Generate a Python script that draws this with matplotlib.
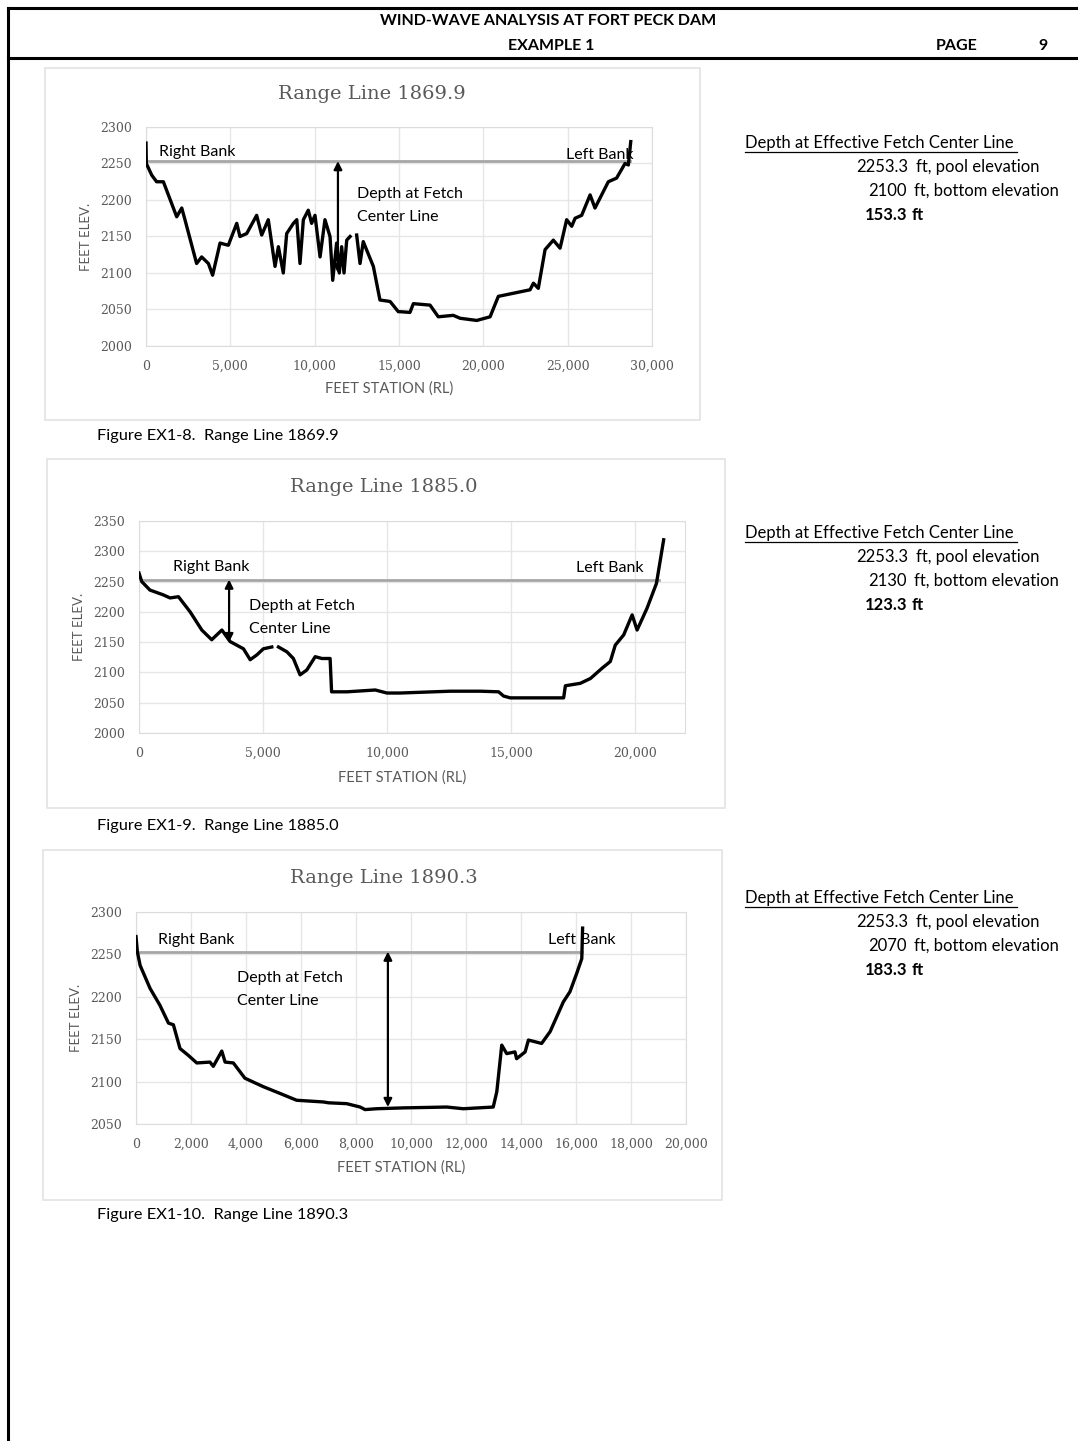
import numpy as np
import matplotlib
matplotlib.use("Agg")
import matplotlib.pyplot as plt
from matplotlib.patches import Rectangle
from matplotlib.lines import Line2D
from matplotlib.ticker import FuncFormatter, MultipleLocator

nan = np.nan
POOL = 2253.3

# Range Line 1869.9 (station ft, elevation ft)
st1 = [0, 20, 340, 630, 1030, 1820, 2120, 2310, 3000, 3300, 3700, 3950, 4390, 4880,
       5380, 5570, 5970, 6560, 6860, 7250, 7650, 7850, 8140, 8340, 8740, 8940, 9130,
       9330, 9620, 9820, 10020, 10320, 10610, 10910, 11070, 11300, 11460, 11600, 11740,
       11900, 12100, nan, 12490, 12690, 12880, 13480, 13870, 14470, 14960, 15060, 15650,
       15850, 16840, 17330, 18220, 18620, 19610, 20400, 20890, 22770, 22970, 23260,
       23660, 24150, 24550, 24940, 25240, 25440, 25830, 26330, 26620, 27410, 27900,
       28400, 28600, 28740]
el1 = [2278, 2250, 2234, 2225, 2225, 2177, 2189, 2173, 2113, 2122, 2113, 2097, 2141, 2138,
       2168, 2150, 2154, 2179, 2152, 2173, 2109, 2136, 2100, 2154, 2168, 2173, 2113,
       2173, 2186, 2168, 2179, 2122, 2173, 2150, 2090, 2141, 2100, 2136, 2100,
       2145, 2150, nan, 2152, 2113, 2143, 2109, 2063, 2061, 2047, 2047, 2046,
       2058, 2056, 2040, 2042, 2038, 2035, 2040, 2068, 2077, 2086, 2079,
       2132, 2145, 2134, 2173, 2164, 2175, 2179, 2207, 2189, 2225, 2230,
       2250, 2248, 2280]

# Range Line 1885.0
st2 = [0, 110, 440, 980, 1250, 1590, 2060, 2530, 2930, 3340, 3670, 3940, 4210, 4480,
       4750, 5010, 5350, nan, 5620, 5960, 6220, 6490, 6760, 7100, 7370, 7700, 7760,
       8380, 9520, 9990, 10520, 12540, 13750, 14490, 14690, 14960, 17110, 17180, 17780,
       18190, 18660, 18990, 19190, 19530, 19870, 20070, 20470, 20850, 21140]
el2 = [2264, 2250, 2236, 2228, 2223, 2225, 2200, 2170, 2154, 2170, 2151, 2145, 2139, 2121,
       2129, 2139, 2142, nan, 2142, 2134, 2123, 2096, 2104, 2126, 2123, 2123, 2068,
       2068, 2071, 2066, 2066, 2069, 2069, 2068, 2061, 2058, 2058, 2078, 2082,
       2090, 2107, 2118, 2145, 2162, 2195, 2170, 2206, 2247, 2319]

# Range Line 1890.3
st3 = [0, 50, 150, 510, 870, 1180, 1360, 1600, 1900, 2210, 2690, 2810, 3120, 3240, 3540,
       3960, 4630, 5240, 5840, 6810, 7000, 7660, 8150, 8330, 8750, 9720, 11300, 11900,
       12990, 13120, 13300, 13480, 13780, 13840, 14150, 14270, 14750, 15060, 15540,
       15780, 16030, 16210, 16240]
el3 = [2271, 2253, 2237, 2210, 2190, 2169, 2167, 2139, 2131, 2122, 2123, 2118, 2136, 2123, 2122,
       2104, 2094, 2086, 2078, 2076, 2075, 2074, 2070, 2067, 2068, 2069, 2070, 2068,
       2070, 2088, 2143, 2133, 2135, 2127, 2135, 2149, 2145, 2159, 2194,
       2206, 2228, 2245, 2281]

titles = ["Range Line 1869.9", "Range Line 1885.0", "Range Line 1890.3"]
captions = ["Figure EX1-8.  Range Line 1869.9", "Figure EX1-9.  Range Line 1885.0",
            "Figure EX1-10.  Range Line 1890.3"]
bottom_elev = [2100, 2130, 2070]
depths = ["153.3", "123.3", "183.3"]
arrow_st = [11380, 3630, 9160]
arrow_bot = [2100, 2150, 2070]
pool_end = [28700, 20950, 16230]

W, H = 1078, 1441
SANS = ["Lato", "DejaVu Sans"]
SERIF = ["DejaVu Serif"]
GRAY = "#595959"

fig = plt.figure(figsize=(W / 100, H / 100), dpi=100)
fig.patch.set_facecolor("white")


def fx(px):
    return px / W


def fy(py):
    return 1 - py / H


# page frame / header
fig.add_artist(Line2D([fx(8), fx(1078)], [fy(8), fy(8)], color="black", lw=2.2))
fig.add_artist(Line2D([fx(8), fx(1078)], [fy(58), fy(58)], color="black", lw=2.2))
fig.add_artist(Line2D([fx(8), fx(8)], [fy(8), fy(1441)], color="black", lw=2.2))
fig.text(fx(548), fy(21), "WIND-WAVE ANALYSIS AT FORT PECK DAM", ha="center", va="center",
         fontsize=11.5, fontweight="bold", family=SANS)
fig.text(fx(551), fy(46), "EXAMPLE 1", ha="center", va="center", fontsize=11.5,
         fontweight="bold", family=SANS)
fig.text(fx(957), fy(46), "PAGE", ha="center", va="center", fontsize=11.5,
         fontweight="bold", family=SANS)
fig.text(fx(1043), fy(46), "9", ha="center", va="center", fontsize=11.5,
         fontweight="bold", family=SANS)

# layout per chart: panel box, axes box (pixels), axis limits
panels = [(45, 68, 700, 420), (47, 459, 725, 808), (43, 850, 722, 1200)]
axboxes = [(146, 127, 652, 346), (139, 521, 685, 733), (136, 912, 686, 1124)]
xlims = [(0, 30000), (0, 22000), (0, 20000)]
ylims = [(2000, 2300), (2000, 2350), (2050, 2300)]
xsteps = [5000, 5000, 2000]
title_pos = [(372, 94), (384, 487), (384, 878)]
caption_y = [436, 826, 1215]
info_y = [143, 533, 898]
rb_pos = [(159, 152), (173, 567), (158, 940)]
lb_pos = [(633, 155), (643, 568), (615, 940)]
depth_pos = [(357, 194), (249, 606), (237, 978)]
xlabel_y = [389, 778, 1168]

profiles = [(st1, el1), (st2, el2), (st3, el3)]

for i in range(3):
    x0, y0, x1, y1 = panels[i]
    fig.add_artist(Rectangle((fx(x0), fy(y1)), fx(x1 - x0), (y1 - y0) / H,
                             facecolor="white", edgecolor="#e3e3e3", lw=1.2, zorder=0))
    l, t, r, b = axboxes[i]
    ax = fig.add_axes([fx(l), fy(b), fx(r - l), (b - t) / H])
    st, el = profiles[i]
    ax.plot(st, el, color="black", lw=2.4, zorder=3)
    ax.plot([0, pool_end[i]], [POOL, POOL], color="#a6a6a6", lw=2, zorder=2)
    ax.annotate("", xy=(arrow_st[i], POOL), xytext=(arrow_st[i], arrow_bot[i]),
                arrowprops=dict(arrowstyle="<|-|>", color="black", lw=1.6,
                                mutation_scale=12, shrinkA=0, shrinkB=0), zorder=4)
    ax.set_xlim(*xlims[i])
    ax.set_ylim(*ylims[i])
    ax.xaxis.set_major_locator(MultipleLocator(xsteps[i]))
    ax.yaxis.set_major_locator(MultipleLocator(50))
    ax.xaxis.set_major_formatter(FuncFormatter(lambda v, p: f"{v:,.0f}"))
    ax.grid(True, color="#e6e6e6", lw=1)
    ax.set_axisbelow(True)
    for s in ax.spines.values():
        s.set_color("#dcdcdc")
    ax.tick_params(length=0, labelsize=9, labelcolor=GRAY, pad=10)
    for lab in ax.get_xticklabels() + ax.get_yticklabels():
        lab.set_family(SERIF)
    ax.set_ylabel("FEET ELEV.", fontsize=9.5, color=GRAY, family=SANS, labelpad=6)
    fig.text(fx((l + r) / 2 - 10), fy(xlabel_y[i]), "FEET STATION (RL)", ha="center",
             va="center", fontsize=10.5, color=GRAY, family=SANS)
    fig.text(fx(title_pos[i][0]), fy(title_pos[i][1]), titles[i], ha="center", va="center",
             fontsize=14, color=GRAY, family=SERIF)
    fig.text(fx(rb_pos[i][0]), fy(rb_pos[i][1]), "Right Bank", ha="left", va="center",
             fontsize=11.5, family=SANS)
    fig.text(fx(lb_pos[i][0]), fy(lb_pos[i][1]), "Left Bank", ha="right", va="center",
             fontsize=11.5, family=SANS)
    dx, dy = depth_pos[i]
    fig.text(fx(dx), fy(dy), "Depth at Fetch", ha="left", va="center",
             fontsize=11.5, family=SANS)
    fig.text(fx(dx), fy(dy + 23), "Center Line", ha="left", va="center",
             fontsize=11.5, family=SANS)
    fig.text(fx(97), fy(caption_y[i]), captions[i], ha="left", va="center",
             fontsize=11.8, family=SANS)

    # side notes
    yy = info_y[i]
    fig.text(fx(745), fy(yy), "Depth at Effective Fetch Center Line", ha="left", va="center",
             fontsize=12, family=SANS)
    fig.add_artist(Line2D([fx(745), fx(1017)], [fy(yy + 9), fy(yy + 9)], color="black", lw=0.9))
    fig.text(fx(908), fy(yy + 24), "2253.3", ha="right", va="center", fontsize=12, family=SANS)
    fig.text(fx(916), fy(yy + 24), "ft, pool elevation", ha="left", va="center",
             fontsize=12, family=SANS)
    fig.text(fx(907), fy(yy + 48), f"{bottom_elev[i]}", ha="right", va="center",
             fontsize=12, family=SANS)
    fig.text(fx(914), fy(yy + 48), "ft, bottom elevation", ha="left", va="center",
             fontsize=12, family=SANS)
    fig.text(fx(907), fy(yy + 72), depths[i], ha="right", va="center", fontsize=12,
             fontweight="bold", family=SANS)
    fig.text(fx(912), fy(yy + 72), "ft", ha="left", va="center", fontsize=12,
             fontweight="bold", family=SANS)

fig.savefig("out.png", dpi=100)
